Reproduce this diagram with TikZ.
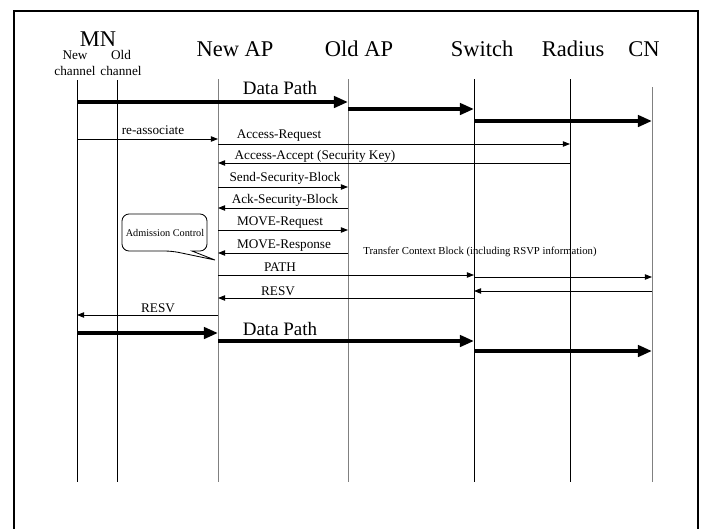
\documentclass[tikz,border=0pt]{standalone}
\usepackage{fontspec}
\setmainfont{Liberation Serif}
\usetikzlibrary{arrows.meta}
\tikzset{
  every picture/.style={x=0.025cm, y=-0.025cm},
  life/.style={draw=#1, line width=0.7pt},
  life/.default=black,
  msg/.style={-{Triangle[length=5pt, width=3.8pt]}, line width=0.6pt},
  flow/.style={-{Triangle[length=10pt, width=8pt]}, line width=2.8pt},
  head/.style={font=\fontsize{16}{18}\selectfont, anchor=base, inner sep=0pt},
  lab/.style={font=\fontsize{9.4}{10.7}\selectfont, anchor=base, inner sep=0pt},
}

\begin{document}
\begin{tikzpicture}[
  big/.style={font=\fontsize{13.5}{16}\selectfont, anchor=base, inner sep=0pt},
  note/.style={font=\fontsize{7.6}{9}\selectfont, anchor=base, inner sep=0pt},
  bubble/.style={font=\fontsize{7.3}{9}\selectfont, anchor=base, inner sep=0pt}]
  \useasboundingbox (0,0) rectangle (703,528);
  \draw[line width=1.8pt] (14,540) -- (14,11) -- (698,11) -- (698,540);
  \node[head] (mn) at (98,46) {MN};
  \node[lab, align=center] (mnnew) at (75,75) {New\\channel};
  \node[lab, align=center] (mnold) at (121,75) {Old\\channel};
  \node[head] (hnap) at (235,56.7) {New AP};
  \node[head] (hoap) at (359,56.7) {Old AP};
  \node[head] (hsw) at (482,56.7) {Switch};
  \node[head] (hrad) at (573,56.7) {Radius};
  \node[head] (hcn) at (644,56.7) {CN};
  \coordinate (mnew) at (77,80);
  \coordinate (mold) at (117,80);
  \coordinate (nap) at (218,79);
  \coordinate (oap) at (348,79);
  \coordinate (sw) at (474,79);
  \coordinate (rad) at (570,79);
  \coordinate (cn) at (652,87);
  \foreach \c/\col in {mnew/black, mold/black, nap/gray, oap/gray, sw/black, rad/black, cn/gray}
    \draw[life=\col] (\c) -- (\c |- 0,482);
  \foreach \a/\b/\y in {mnew/oap/102, oap/sw/109, sw/cn/121, mnew/nap/333, nap/sw/341, sw/cn/351}
    \draw[flow] (\a |- 0,\y) -- (\b |- 0,\y);
  \node[big] (dp1) at (280,94) {Data Path};
  \node[big] (dp2) at (280,335) {Data Path};
  \foreach \a/\b/\y/\lx/\ly/\txt in {mnew/nap/139/153/134/re-associate,
      nap/rad/144/279/138/Access-Request,
      rad/nap/163/315/159/Access-Accept (Security Key),
      nap/oap/187/285/181.5/Send-Security-Block,
      oap/nap/208/285/203/Ack-Security-Block,
      nap/oap/230/280/225/MOVE-Request,
      oap/nap/253/284/248.3/MOVE-Response,
      nap/sw/275/280/271.5/PATH,
      sw/nap/298/278/295.5/RESV,
      nap/mnew/315/158/312/RESV}
  {
    \draw[msg] (\a |- 0,\y) -- (\b |- 0,\y);
    \node[lab] (m\y) at (\lx,\ly) {\txt};
  }
  \foreach \a/\b/\y in {sw/cn/277, cn/sw/291}
    \draw[msg] (\a |- 0,\y) -- (\b |- 0,\y);
  \node[note] (tcb) at (480,254.3) {Transfer Context Block (including RSVP information)};
  \draw[line width=0.6pt, rounded corners=5pt] (192,251) -- (207,251) -- (207,214) -- (122,214) -- (122,251) -- (172,251) [sharp corners] -- (215,260) -- cycle;
  \node[bubble] (adm) at (165,236) {Admission Control};
\end{tikzpicture}
\end{document}
